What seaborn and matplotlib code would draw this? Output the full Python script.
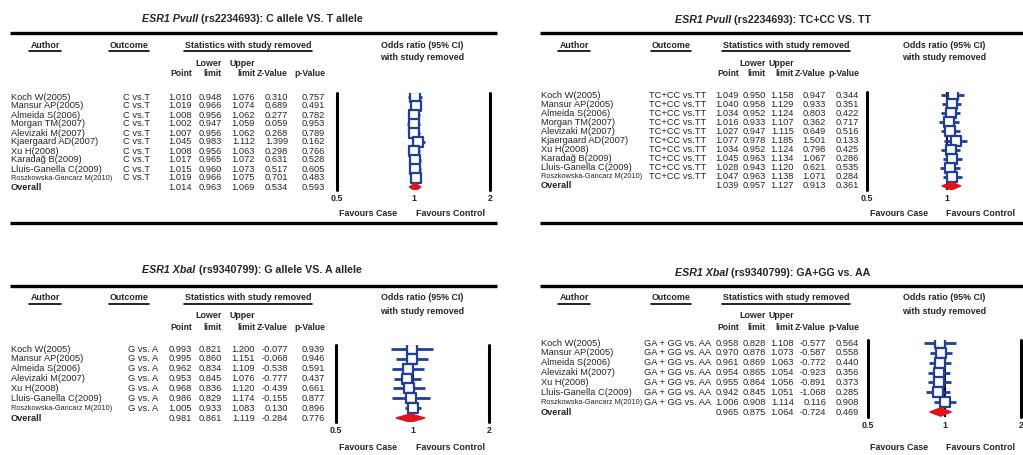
import math

import matplotlib
matplotlib.use("Agg")
import matplotlib.pyplot as plt
import pandas as pd
import seaborn as sns

W, H = 1023, 455

# ── data ──────────────────────────────────────────────────────────────────────
AUTHORS_PVU = ["Koch W(2005)", "Mansur AP(2005)", "Almeida S(2006)", "Morgan TM(2007)",
               "Alevizaki M(2007)", "Kjaergaard AD(2007)", "Xu H(2008)", "Karadağ B(2009)",
               "Lluis-Ganella C(2009)", "Roszkowska-Gancarz M(2010)", "Overall"]
AUTHORS_XBA = ["Koch W(2005)", "Mansur AP(2005)", "Almeida S(2006)", "Alevizaki M(2007)",
               "Xu H(2008)", "Lluis-Ganella C(2009)", "Roszkowska-Gancarz M(2010)", "Overall"]

# C allele vs T allele
A_POINT = [1.010, 1.019, 1.008, 1.002, 1.007, 1.045, 1.008, 1.017, 1.015, 1.019, 1.014]
A_LOWER = [0.948, 0.966, 0.956, 0.947, 0.956, 0.983, 0.956, 0.965, 0.960, 0.966, 0.963]
A_UPPER = [1.076, 1.074, 1.062, 1.059, 1.062, 1.112, 1.063, 1.072, 1.073, 1.075, 1.069]
A_Z = [0.310, 0.689, 0.277, 0.059, 0.268, 1.399, 0.298, 0.631, 0.517, 0.701, 0.534]
A_P = [0.757, 0.491, 0.782, 0.953, 0.789, 0.162, 0.766, 0.528, 0.605, 0.483, 0.593]

# TC+CC vs TT
B_POINT = [1.049, 1.040, 1.034, 1.016, 1.027, 1.077, 1.034, 1.045, 1.028, 1.047, 1.039]
B_LOWER = [0.950, 0.958, 0.952, 0.933, 0.947, 0.978, 0.952, 0.963, 0.943, 0.963, 0.957]
B_UPPER = [1.158, 1.129, 1.124, 1.107, 1.115, 1.185, 1.124, 1.134, 1.120, 1.138, 1.127]
B_Z = [0.947, 0.933, 0.803, 0.362, 0.649, 1.501, 0.798, 1.067, 0.621, 1.071, 0.913]
B_P = [0.344, 0.351, 0.422, 0.717, 0.516, 0.133, 0.425, 0.286, 0.535, 0.284, 0.361]

# G allele vs A allele
C_POINT = [0.993, 0.995, 0.962, 0.953, 0.968, 0.986, 1.005, 0.981]
C_LOWER = [0.821, 0.860, 0.834, 0.845, 0.836, 0.829, 0.933, 0.861]
C_UPPER = [1.200, 1.151, 1.109, 1.076, 1.120, 1.174, 1.083, 1.119]
C_Z = [-0.077, -0.068, -0.538, -0.777, -0.439, -0.155, 0.130, -0.284]
C_P = [0.939, 0.946, 0.591, 0.437, 0.661, 0.877, 0.896, 0.776]

# GA+GG vs AA
D_POINT = [0.958, 0.970, 0.961, 0.954, 0.955, 0.942, 1.006, 0.965]
D_LOWER = [0.828, 0.878, 0.869, 0.865, 0.864, 0.845, 0.908, 0.875]
D_UPPER = [1.108, 1.073, 1.063, 1.054, 1.056, 1.051, 1.114, 1.064]
D_Z = [-0.577, -0.587, -0.772, -0.923, -0.891, -1.068, 0.116, -0.724]
D_P = [0.564, 0.558, 0.440, 0.356, 0.373, 0.285, 0.908, 0.469]

TITLES = [("ESR1 PvuII", " (rs2234693): C allele VS. T allele"),
          ("ESR1 PvuII", " (rs2234693): TC+CC VS. TT"),
          ("ESR1 XbaI", " (rs9340799): G allele VS. A allele"),
          ("ESR1 XbaI", " (rs9340799): GA+GG vs. AA")]
OUTCOMES = ["C vs.T", "TC+CC vs.TT", "G vs. A", "GA + GG vs. AA"]
TICKS = [0.5, 1, 2]

BLUE = "#1f3f9e"
RED = "#e2121b"
FS = 6.7       # row text
FS_HEAD = 6.4  # column headers

sns.set_style("white")
plt.rcParams["font.family"] = ["Liberation Sans", "DejaVu Sans"]

# ── layout (pixels) ───────────────────────────────────────────────────────────
LEFT_X = dict(title=252, rule=(10, 497), author=11, cols=[192, 222, 255, 288, 325],
              h_author=45, h_outcome=129, h_stats=248, h_odds=422, fav=(368, 450))
RIGHT_X = dict(title=773, rule=(540, 1030), author=541, cols=[739, 766, 794, 826, 859],
               h_author=574, h_outcome=671, h_stats=786, h_odds=944, fav=(899, 981))
TOP_Y = dict(rule=33, head=45, odds2=58, sub1=63, sub2=73, fav=213, bottom=223)
BOT_Y = dict(rule=286, head=298, odds2=311, sub1=316, sub2=327, fav=448, bottom=None)

PANELS = [
    dict(x=LEFT_X, y=TOP_Y, title_y=19, outcome_x=123, row0=97, step=9.0, bars=(337, 490, 93, 190)),
    dict(x=RIGHT_X, y=TOP_Y, title_y=20, outcome_x=649, row0=95, step=9.1, bars=(867, 1027, 92, 190)),
    dict(x=LEFT_X, y=BOT_Y, title_y=270, outcome_x=128, row0=349, step=9.86, bars=(336, 489, 345, 422)),
    dict(x=RIGHT_X, y=BOT_Y, title_y=273, outcome_x=644, row0=343, step=9.86, bars=(868, 1021, 340, 417)),
]
DATA = [
    (AUTHORS_PVU, A_POINT, A_LOWER, A_UPPER, A_Z, A_P),
    (AUTHORS_PVU, B_POINT, B_LOWER, B_UPPER, B_Z, B_P),
    (AUTHORS_XBA, C_POINT, C_LOWER, C_UPPER, C_Z, C_P),
    (AUTHORS_XBA, D_POINT, D_LOWER, D_UPPER, D_Z, D_P),
]

fig = plt.figure(figsize=(W / 100, H / 100), dpi=100)
bg = fig.add_axes([0, 0, 1, 1])
bg.set_xlim(0, W)
bg.set_ylim(H, 0)
bg.axis("off")
renderer = fig.canvas.get_renderer()


def text_width(t):
    return t.get_window_extent(renderer).width


def underlined(x, y, s):
    t = bg.text(x, y, s, ha="center", va="center", fontsize=FS_HEAD, fontweight="bold")
    w = text_width(t)
    bg.plot([x - w / 2 - 1, x + w / 2 + 1], [y + 6, y + 6], color="black", lw=1.2)


def draw_title(cx, y, ital, rest):
    t1 = bg.text(0, y, ital, ha="left", va="center", fontsize=7.7,
                 fontweight="bold", fontstyle="italic")
    t2 = bg.text(0, y, rest, ha="left", va="center", fontsize=7.7, fontweight="bold")
    w1, w2 = text_width(t1), text_width(t2)
    start = cx - (w1 + w2) / 2
    t1.set_x(start)
    t2.set_x(start + w1)


def draw_forest(lay, point, lower, upper):
    px0, px1, py0, py1 = lay["bars"]
    ax = fig.add_axes([px0 / W, 1 - py1 / H, (px1 - px0) / W, (py1 - py0) / H])
    df = pd.DataFrame({"row": range(len(point)), "point": point,
                       "lower": lower, "upper": upper})
    studies, overall = df.iloc[:-1], df.iloc[-1]

    ax.axvline(1, color="black", lw=1.4, zorder=1)
    ax.hlines(studies["row"], studies["lower"], studies["upper"],
              color=BLUE, lw=2.0, zorder=2)
    sns.scatterplot(data=studies, x="point", y="row", marker="s", s=42,
                    color="white", edgecolor=BLUE, linewidth=1.6,
                    legend=False, zorder=3, ax=ax)
    r = overall["row"]
    ax.fill([overall["lower"], overall["point"], overall["upper"], overall["point"]],
            [r, r - 0.42, r, r + 0.42], color=RED, lw=1.0, zorder=3)

    ax.set_xscale("log")
    ax.set_xlim(0.5, 2)
    ax.set_ylim((py1 - lay["row0"]) / lay["step"], (py0 - lay["row0"]) / lay["step"])
    for v in (0.5, 2):
        ax.axvline(v, color="black", lw=2.2, clip_on=False)

    # ticks that fall past the right edge of the canvas get no label
    shown = [t for t in TICKS
             if px0 + (px1 - px0) * (math.log2(t) + 1) / 2 <= W]
    ax.set_xticks(shown)
    ax.minorticks_off()
    ax.set_xticklabels([f"{t:g}" for t in shown], fontsize=6.4, fontweight="bold")
    ax.set_yticks([])
    ax.tick_params(axis="x", length=0, pad=3)
    ax.set_xlabel("")
    ax.set_ylabel("")
    sns.despine(ax=ax, left=True, bottom=True)
    ax.patch.set_alpha(0)


for lay, data, title, outcome in zip(PANELS, DATA, TITLES, OUTCOMES):
    lx, ly = lay["x"], lay["y"]
    authors, point, lower, upper, zval, pval = data

    draw_title(lx["title"], lay["title_y"], *title)
    bg.plot(lx["rule"], [ly["rule"]] * 2, color="black", lw=2.4, solid_capstyle="butt")
    if ly["bottom"]:
        bg.plot(lx["rule"], [ly["bottom"]] * 2, color="black", lw=2.4, solid_capstyle="butt")

    underlined(lx["h_author"], ly["head"], "Author")
    underlined(lx["h_outcome"], ly["head"], "Outcome")
    underlined(lx["h_stats"], ly["head"], "Statistics with study removed")
    bg.text(lx["h_odds"], ly["head"], "Odds ratio (95% CI)", ha="center", va="center",
            fontsize=FS_HEAD, fontweight="bold")
    bg.text(lx["h_odds"], ly["odds2"], "with study removed", ha="center", va="center",
            fontsize=FS_HEAD, fontweight="bold")

    cols = lx["cols"]
    bg.text(cols[1], ly["sub1"], "Lower", ha="right", va="center",
            fontsize=FS_HEAD, fontweight="bold")
    bg.text(cols[2], ly["sub1"], "Upper", ha="right", va="center",
            fontsize=FS_HEAD, fontweight="bold")
    for cx, lab in zip(cols, ["Point", "limit", "limit", "Z-Value", "p-Value"]):
        bg.text(cx, ly["sub2"], lab, ha="right", va="center",
                fontsize=FS_HEAD - 0.2, fontweight="bold")

    for i, name in enumerate(authors):
        y = lay["row0"] + i * lay["step"]
        if name == "Overall":
            bg.text(lx["author"], y, name, ha="left", va="center", fontsize=FS, fontweight="bold")
        else:
            small = name.startswith("Roszkowska")
            bg.text(lx["author"], y, name, ha="left", va="center",
                    fontsize=5.3 if small else FS)
            bg.text(lay["outcome_x"], y, outcome, ha="left", va="center", fontsize=FS)
        for cx, vals in zip(cols, [point, lower, upper, zval, pval]):
            bg.text(cx, y, f"{vals[i]:.3f}", ha="right", va="center", fontsize=FS)

    draw_forest(lay, point, lower, upper)

    bg.text(lx["fav"][0], ly["fav"], "Favours Case", ha="center", va="center",
            fontsize=6.4, fontweight="bold")
    bg.text(lx["fav"][1], ly["fav"], "Favours Control", ha="center", va="center",
            fontsize=6.4, fontweight="bold")

fig.savefig("out.png", dpi=100)
plt.close(fig)
